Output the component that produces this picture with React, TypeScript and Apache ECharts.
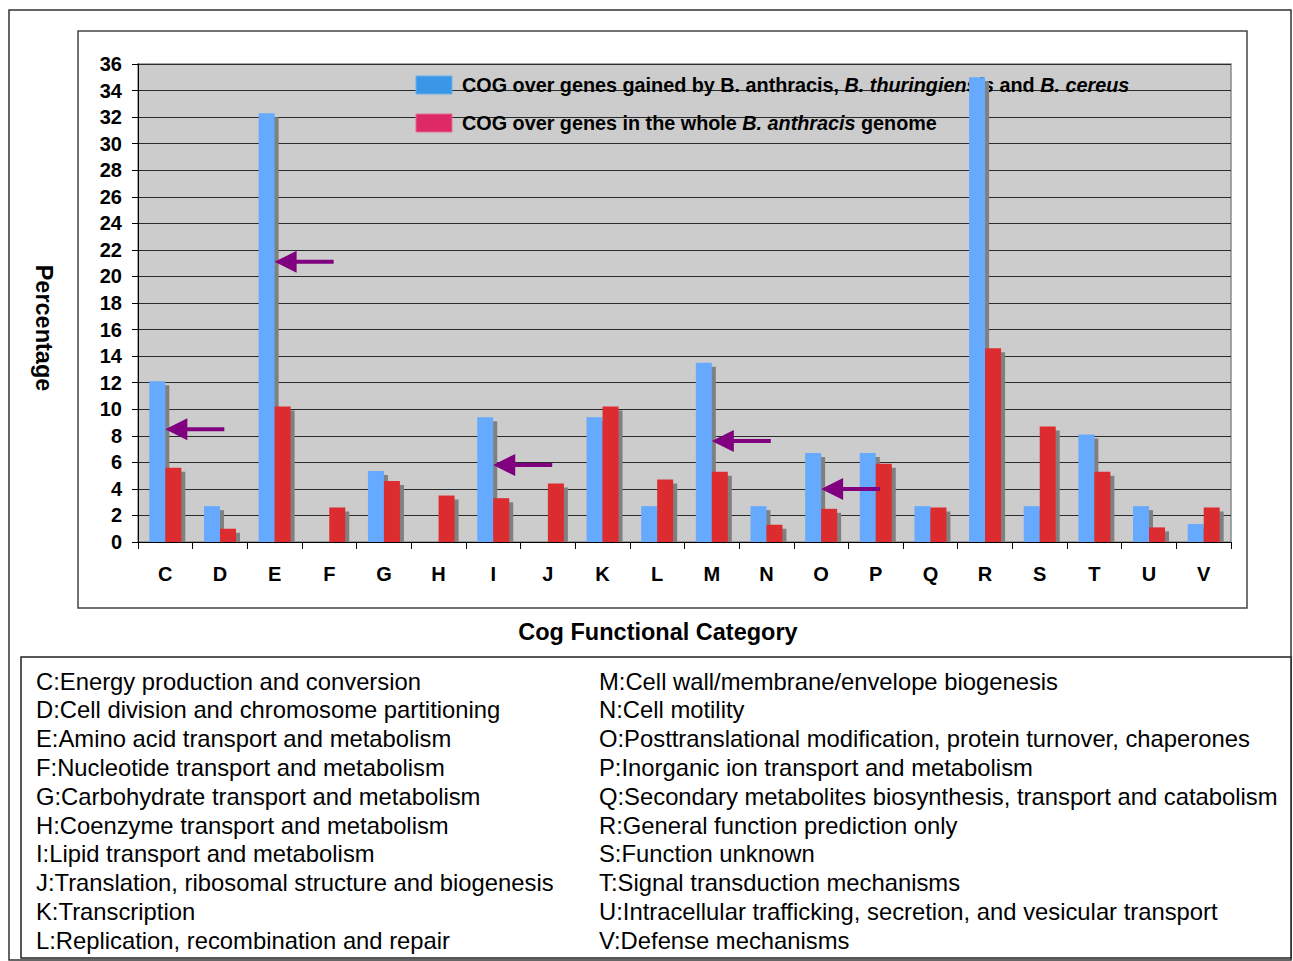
import React, { useEffect, useRef } from 'react';
import * as echarts from 'echarts';

const categories = ['C', 'D', 'E', 'F', 'G', 'H', 'I', 'J', 'K', 'L', 'M', 'N', 'O', 'P', 'Q', 'R', 'S', 'T', 'U', 'V'];
const gainedValues = [12.1, 2.7, 32.3, 0, 5.35, 0, 9.4, 0, 9.4, 2.7, 13.5, 2.7, 6.7, 6.7, 2.7, 35.0, 2.7, 8.1, 2.7, 1.35];
const genomeValues = [5.6, 1.0, 10.2, 2.6, 4.6, 3.5, 3.3, 4.4, 10.2, 4.7, 5.3, 1.3, 2.5, 5.9, 2.6, 14.6, 8.7, 5.3, 1.1, 2.6];
const arrowCategories = ['C', 'E', 'I', 'M', 'O'];
const arrowValues = [8.5, 21.1, 5.8, 7.6, 4.0];

const descLeft = [
  'C:Energy production and conversion',
  'D:Cell division and chromosome partitioning',
  'E:Amino acid transport and metabolism',
  'F:Nucleotide transport and metabolism',
  'G:Carbohydrate transport and metabolism',
  'H:Coenzyme transport and metabolism',
  'I:Lipid transport and metabolism',
  'J:Translation, ribosomal structure and biogenesis',
  'K:Transcription',
  'L:Replication, recombination and repair',
];
const descRight = [
  'M:Cell wall/membrane/envelope biogenesis',
  'N:Cell motility',
  'O:Posttranslational modification, protein turnover, chaperones',
  'P:Inorganic ion transport and metabolism',
  'Q:Secondary metabolites biosynthesis, transport and catabolism',
  'R:General function prediction only',
  'S:Function unknown',
  'T:Signal transduction mechanisms',
  'U:Intracellular trafficking, secretion, and vesicular transport',
  'V:Defense mechanisms',
];

const FONT = '"Liberation Sans", Arial, Helvetica, sans-serif';

export default function App() {
  const ref = useRef<HTMLDivElement>(null);
  useEffect(() => {
    document.body.style.margin = '0';
    if (!ref.current) return;
    const chart = echarts.init(ref.current, null, { renderer: 'svg' });

    const descTexts: any[] = [];
    descLeft.forEach((t, i) => {
      descTexts.push({
        type: 'text', x: 36, y: 681 + i * 28.8, z: 1,
        style: { text: t, font: `23.8px ${FONT}`, fill: '#000', textVerticalAlign: 'middle' },
      });
    });
    descRight.forEach((t, i) => {
      descTexts.push({
        type: 'text', x: 599, y: 681 + i * 28.8, z: 1,
        style: { text: t, font: `23.8px ${FONT}`, fill: '#000', textVerticalAlign: 'middle' },
      });
    });

    const rich = {
      b: { fontFamily: FONT, fontWeight: 'bold', fontSize: 19.8, color: '#000' },
      bi: { fontFamily: FONT, fontWeight: 'bold', fontStyle: 'italic', fontSize: 19.8, color: '#000' },
    };

    const option: any = {
      animation: false,
      backgroundColor: '#fff',
      grid: {
        left: 138, top: 64, right: 62, bottom: 419,
        show: true, backgroundColor: '#cccccc', borderColor: '#8a8a8a', borderWidth: 1.5,
      },
      xAxis: {
        type: 'category',
        data: categories,
        boundaryGap: true,
        axisLine: { lineStyle: { color: '#000', width: 1 } },
        axisTick: { show: true, length: 7, lineStyle: { color: '#000' } },
        axisLabel: { interval: 0, margin: 22, color: '#000', fontFamily: FONT, fontWeight: 'bold', fontSize: 20 },
        splitLine: { show: false },
      },
      yAxis: {
        type: 'value',
        min: 0, max: 36, interval: 2,
        axisLine: { show: true, lineStyle: { color: '#000', width: 1 } },
        axisTick: { show: true, length: 6, lineStyle: { color: '#000' } },
        axisLabel: { margin: 16, color: '#000', fontFamily: FONT, fontWeight: 'bold', fontSize: 20 },
        splitLine: { show: true, lineStyle: { color: '#2a2a2a', width: 1 } },
      },
      graphic: [
        { type: 'rect', z: 0, shape: { x: 9, y: 10, width: 1282, height: 950 }, style: { fill: 'none', stroke: '#333', lineWidth: 1.5 } },
        { type: 'rect', z: 0, shape: { x: 78, y: 31, width: 1169, height: 577 }, style: { fill: 'none', stroke: '#444', lineWidth: 1.5 } },
        { type: 'rect', z: 0, shape: { x: 21, y: 657, width: 1270, height: 301 }, style: { fill: '#fff', stroke: '#222', lineWidth: 1.5 } },
        {
          type: 'text', x: 44, y: 328, rotation: -Math.PI / 2, z: 1,
          style: { text: 'Percentage', font: `bold 23.5px ${FONT}`, fill: '#000', textAlign: 'center', textVerticalAlign: 'middle' },
        },
        {
          type: 'text', x: 658, y: 632, z: 1,
          style: { text: 'Cog Functional Category', font: `bold 23.5px ${FONT}`, fill: '#000', textAlign: 'center', textVerticalAlign: 'middle' },
        },
        { type: 'rect', z: 1, shape: { x: 416, y: 76, width: 36, height: 18 }, style: { fill: '#3a96e6', stroke: '#6cb0ee', lineWidth: 1 } },
        { type: 'rect', z: 1, shape: { x: 416, y: 114, width: 36, height: 18 }, style: { fill: '#dd2a66', stroke: '#e86a92', lineWidth: 1 } },
        {
          type: 'text', x: 462, y: 85, z: 1,
          style: {
            text: '{b|COG over genes gained by B. anthracis, }{bi|B. thuringiensis}{b| and }{bi|B. cereus}',
            rich, textVerticalAlign: 'middle',
          },
        },
        {
          type: 'text', x: 462, y: 123, z: 1,
          style: {
            text: '{b|COG over genes in the whole }{bi|B. anthracis}{b| genome}',
            rich, textVerticalAlign: 'middle',
          },
        },
        ...descTexts,
      ],
      series: [
        {
          type: 'custom',
          name: 'shadow',
          z: 1,
          data: categories.map((c, i) => [i, gainedValues[i], genomeValues[i]]),
          renderItem: (params: any, api: any) => {
            const idx = api.value(0);
            const base = api.coord([idx, 0]);
            const children: any[] = [];
            [api.value(1), api.value(2)].forEach((v: number, k: number) => {
              if (!v) return;
              const top = api.coord([idx, v])[1] + 4;
              const h = base[1] - top;
              if (h <= 0) return;
              const x0 = base[0] - 16 + k * 16 + 4;
              children.push({ type: 'rect', shape: { x: x0, y: top, width: 16, height: h }, style: { fill: '#808080' } });
            });
            return { type: 'group', children };
          },
        },
        {
          type: 'bar',
          name: 'gained',
          z: 2,
          data: gainedValues,
          barWidth: 16,
          barGap: '0%',
          itemStyle: { color: '#66aaff' },
        },
        {
          type: 'bar',
          name: 'genome',
          z: 2,
          data: genomeValues,
          barWidth: 16,
          barGap: '0%',
          itemStyle: { color: '#dd2c30' },
        },
        {
          type: 'custom',
          name: 'arrows',
          z: 3,
          data: arrowCategories.map((c, i) => [categories.indexOf(c), arrowValues[i]]),
          renderItem: (params: any, api: any) => {
            const p = api.coord([api.value(0), api.value(1)]);
            const x = p[0];
            const y = p[1];
            return {
              type: 'polygon',
              shape: {
                points: [[x, y], [x + 22, y - 11], [x + 22, y - 2], [x + 59, y - 2], [x + 59, y + 2], [x + 22, y + 2], [x + 22, y + 11]],
              },
              style: { fill: '#800080' },
            };
          },
        },
      ],
    };
    chart.setOption(option);
    return () => chart.dispose();
  }, []);
  return <div ref={ref} style={{ width: 1293, height: 961 }} />;
}
